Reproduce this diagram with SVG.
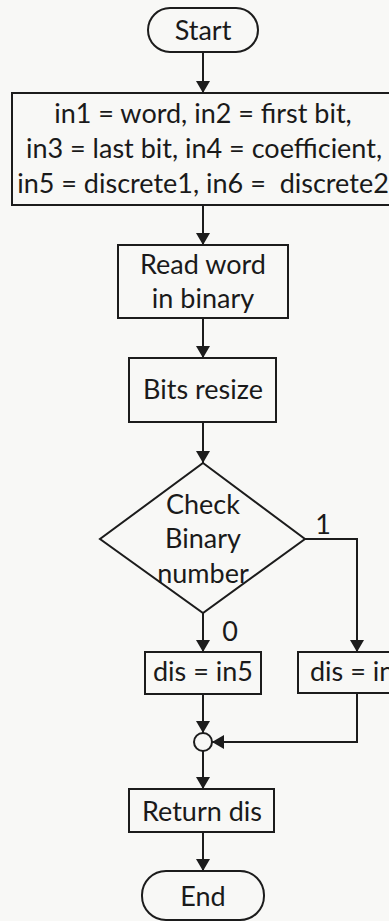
<svg xmlns="http://www.w3.org/2000/svg" width="389" height="921" viewBox="0 0 389 921">
  <style>
    .shape { fill: none; stroke: #1c1c1c; stroke-width: 2; }
    .edge { fill: none; stroke: #1c1c1c; stroke-width: 2; }
    .label { font-family: Lato, "Open Sans", sans-serif; font-size: 27px; fill: #1a1a1a; text-anchor: middle; }
  </style>
  <defs>
    <marker id="arrow" viewBox="0 0 12 14" refX="12" refY="7" markerWidth="12" markerHeight="14" markerUnits="userSpaceOnUse" orient="auto">
      <path d="M0,0 L12,7 L0,14 Z" fill="#1c1c1c"/>
    </marker>
  </defs>
  <rect width="389" height="921" fill="#f8f8f6"/>

  <g id="connectors">
    <line class="edge" x1="203" y1="52" x2="203" y2="93" marker-end="url(#arrow)"/>
    <line class="edge" x1="203" y1="205" x2="203" y2="245" marker-end="url(#arrow)"/>
    <line class="edge" x1="203" y1="318" x2="203" y2="358" marker-end="url(#arrow)"/>
    <line class="edge" x1="203" y1="422" x2="203" y2="463" marker-end="url(#arrow)"/>
    <line class="edge" x1="203" y1="613" x2="203" y2="652" marker-end="url(#arrow)"/>
    <polyline class="edge" points="305,539 357,539 357,652" marker-end="url(#arrow)"/>
    <line class="edge" x1="203" y1="694" x2="203" y2="733" marker-end="url(#arrow)"/>
    <polyline class="edge" points="357,693 357,742 212,742" marker-end="url(#arrow)"/>
    <line class="edge" x1="203" y1="751" x2="203" y2="789" marker-end="url(#arrow)"/>
    <line class="edge" x1="203" y1="832" x2="203" y2="871" marker-end="url(#arrow)"/>
    <text class="label" x="323" y="534">1</text>
    <text class="label" x="230" y="641">0</text>
  </g>

  <g id="start">
    <rect class="shape" x="148" y="8" width="110" height="44" rx="22"/>
    <text class="label" x="203" y="40">Start</text>
  </g>

  <g id="inputs">
    <rect class="shape" x="12" y="93" width="380" height="112"/>
    <text class="label" x="203" y="123">in1 = word, in2 = first bit,</text>
    <text class="label" x="204" y="158">in3 = last bit, in4 = coefficient,</text>
    <text class="label" x="203" y="193" xml:space="preserve">in5 = discrete1, in6 =  discrete2</text>
  </g>

  <g id="read-word">
    <rect class="shape" x="118" y="245" width="170" height="73"/>
    <text class="label" x="203" y="274">Read word</text>
    <text class="label" x="203" y="308">in binary</text>
  </g>

  <g id="bits-resize">
    <rect class="shape" x="129" y="358" width="147" height="64"/>
    <text class="label" x="203" y="399">Bits resize</text>
  </g>

  <g id="check-binary">
    <polygon class="shape" points="203,463 305,539 203,613 100,539"/>
    <text class="label" x="203" y="514">Check</text>
    <text class="label" x="203" y="548">Binary</text>
    <text class="label" x="203" y="583">number</text>
  </g>

  <g id="dis-in5">
    <rect class="shape" x="145" y="652" width="116" height="42"/>
    <text class="label" x="203" y="681">dis = in5</text>
  </g>

  <g id="dis-in6">
    <rect class="shape" x="298" y="652" width="118" height="41"/>
    <text class="label" x="310" y="681" style="text-anchor: start">dis = in6</text>
  </g>

  <g id="merge">
    <circle class="shape" cx="203" cy="742" r="9" fill="#f8f8f6"/>
  </g>

  <g id="return-dis">
    <rect class="shape" x="129" y="789" width="145" height="43"/>
    <text class="label" x="202" y="821">Return dis</text>
  </g>

  <g id="end">
    <rect class="shape" x="142" y="871" width="122" height="49" rx="24"/>
    <text class="label" x="203" y="906">End</text>
  </g>
</svg>
